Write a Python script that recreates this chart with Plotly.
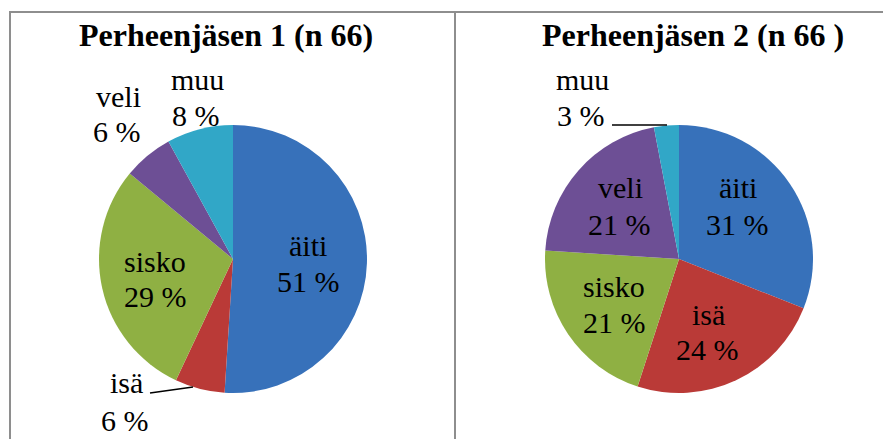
import plotly.graph_objects as go

# ---- data ----
categories = ["äiti", "isä", "sisko", "veli", "muu"]
member1_pct = [51, 6, 29, 6, 8]
member2_pct = [31, 24, 21, 21, 3]
titles = ["Perheenjäsen 1 (n 66)", "Perheenjäsen 2 (n 66 )"]

# ---- style ----
colors = ["#3771BA", "#BA3A37", "#8FB043", "#6D4F95", "#31A7C7"]
OFF = 8  # page body margin
W, H = 891 - OFF, 439 - OFF
FONT = "Liberation Serif"


def px(x):
    return (x - OFF) / W


def py(y):
    return 1 - (y - OFF) / H


fig = go.Figure()

pie_centers = [(233, 259), (679, 259)]
R = 134
for (cx, cy), vals in zip(pie_centers, [member1_pct, member2_pct]):
    fig.add_trace(go.Pie(
        labels=categories, values=vals, sort=False, direction="clockwise",
        rotation=0, textinfo="none", hoverinfo="label+percent",
        marker=dict(colors=colors, line=dict(width=0)),
        domain=dict(x=[px(cx - R), px(cx + R)], y=[py(cy + R), py(cy - R)]),
        showlegend=False,
    ))

# label positions (name line, value line) in pixels
label_pos = [
    # chart 1
    [((308, 247), (308, 282)), ((126, 383), (125, 421)), ((155, 262), (155, 297)),
     ((118, 97), (117, 133)), ((197, 80), (196, 117))],
    # chart 2
    [((738, 188), (737, 225)), ((708, 315), (707, 350)), ((614, 287), (614, 323)),
     ((620, 188), (619, 225)), ((582, 80), (581, 117))],
]

annotations = []
for ci, vals in enumerate([member1_pct, member2_pct]):
    for k, (cat, v) in enumerate(zip(categories, vals)):
        (nx, ny), (vx, vy) = label_pos[ci][k]
        annotations.append(dict(x=px(nx), y=py(ny - 1), xref="paper", yref="paper",
                                text=cat, showarrow=False, xanchor="center", yanchor="middle",
                                font=dict(family=FONT, size=30, color="#000")))
        annotations.append(dict(x=px(vx), y=py(vy - 1), xref="paper", yref="paper",
                                text=f"{v} %", showarrow=False, xanchor="center", yanchor="middle",
                                font=dict(family=FONT, size=30, color="#000")))

title_pos = [(225.5, 35), (693, 35)]
for t, (tx, ty) in zip(titles, title_pos):
    annotations.append(dict(x=px(tx), y=py(ty), xref="paper", yref="paper",
                            text=f"<b>{t}</b>", showarrow=False, xanchor="center", yanchor="middle",
                            font=dict(family=FONT, size=32, color="#000")))

shapes = [
    # frame
    dict(type="line", xref="paper", yref="paper", x0=px(9), x1=1, y0=py(12), y1=py(12),
         line=dict(color="#8E8E8E", width=2)),
    dict(type="line", xref="paper", yref="paper", x0=px(10), x1=px(10), y0=py(11), y1=0,
         line=dict(color="#8E8E8E", width=2)),
    dict(type="line", xref="paper", yref="paper", x0=px(455), x1=px(455), y0=py(11), y1=0,
         line=dict(color="#8E8E8E", width=2)),
    # leader lines
    dict(type="line", xref="paper", yref="paper", x0=px(150), x1=px(193), y0=py(393), y1=py(387),
         line=dict(color="#000", width=1.5)),
    dict(type="line", xref="paper", yref="paper", x0=px(612), x1=px(667), y0=py(125), y1=py(125),
         line=dict(color="#000", width=1.5)),
]

fig.update_layout(
    width=W, height=H, margin=dict(l=0, r=0, t=0, b=0),
    paper_bgcolor="white", plot_bgcolor="white",
    annotations=annotations, shapes=shapes,
)

fig.write_html("out.html")
